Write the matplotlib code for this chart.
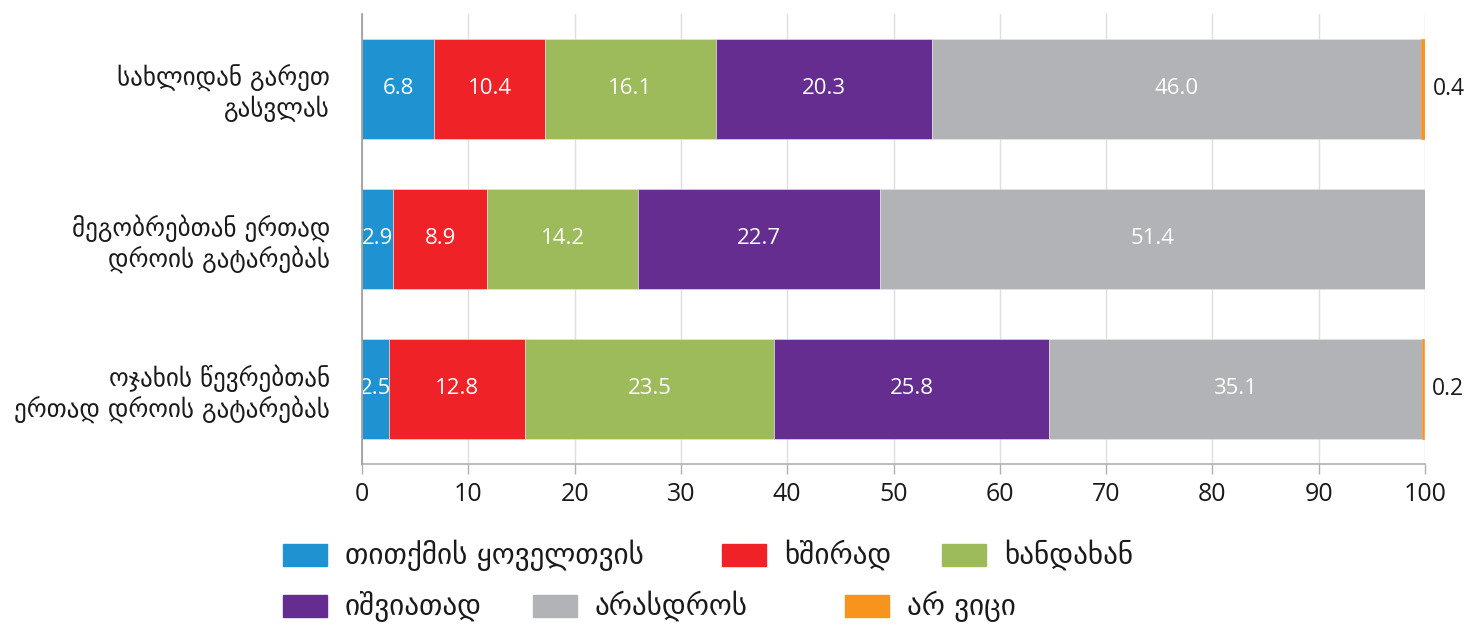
import numpy as np
import matplotlib
matplotlib.use("Agg")
import matplotlib.pyplot as plt
from matplotlib.patches import Rectangle

# activities (y axis, top to bottom)
activities = [
    "სახლიდან გარეთ\nგასვლას",
    "მეგობრებთან ერთად\nდროის გატარებას",
    "ოჯახის წევრებთან\nერთად დროის გატარებას",
]

# answer categories and their shares (%)
answers = [
    "თითქმის ყოველთვის",
    "ხშირად",
    "ხანდახან",
    "იშვიათად",
    "არასდროს",
    "არ ვიცი",
]
almost_always = [6.8, 2.9, 2.5]
often = [10.4, 8.9, 12.8]
sometimes = [16.1, 14.2, 23.5]
rarely = [20.3, 22.7, 25.8]
never = [46.0, 51.4, 35.1]
dont_know = [0.4, 0.0, 0.2]

series = [almost_always, often, sometimes, rarely, never, dont_know]
colors = ["#1f93d2", "#ee2227", "#9dbb5a", "#662d91", "#b1b3b6", "#f7941d"]

xticks = [0, 10, 20, 30, 40, 50, 60, 70, 80, 90, 100]

W, H = 1480, 626
fig = plt.figure(figsize=(W / 100, H / 100), dpi=100)
ax = fig.add_axes([362 / W, 1 - 464 / H, (1425 - 362) / W, (464 - 14) / H])

num_font = ["Open Sans", "DejaVu Sans"]
geo_font = ["DejaVu Sans"]

y = np.arange(len(activities))
left = np.zeros(len(activities))
for vals, col in zip(series, colors):
    vals = np.asarray(vals)
    bars = ax.barh(y, vals, left=left, height=0.667, color=col,
                   edgecolor="#e8e8e8", linewidth=0.4, zorder=3)
    is_last = col == colors[-1]
    for b, v in zip(bars, vals):
        if v <= 0:
            continue
        cy = b.get_y() + b.get_height() / 2
        if is_last:
            b.set_edgecolor(col)
            ax.annotate(f"{v:.1f}", (b.get_x() + b.get_width(), cy),
                        xytext=(6, 0), textcoords="offset points",
                        ha="left", va="center", fontsize=16.5,
                        family=num_font, color="#1a1a1a")
        else:
            ax.text(b.get_x() + b.get_width() / 2, cy, f"{v:.1f}",
                    ha="center", va="center", fontsize=16,
                    family=num_font, color="white", zorder=4)
    left += vals

ax.set_xlim(0, 100)
ax.set_ylim(2.5, -0.5)
ax.set_xticks(xticks)
ax.set_xticklabels([str(t) for t in xticks], family=num_font, fontsize=18,
                   color="#1a1a1a")
ax.set_yticks(y)
ax.set_yticklabels(activities, family=geo_font, fontsize=18, color="#1a1a1a",
                   ha="right", linespacing=1.15)
ax.tick_params(axis="y", length=0, pad=23)
ax.tick_params(axis="x", length=7, width=1, color="#b0b0b0", pad=6)

ax.grid(axis="x", color="#dedede", linewidth=1, zorder=0)
ax.set_axisbelow(True)
for side in ("top", "right"):
    ax.spines[side].set_visible(False)
ax.spines["left"].set_color("#9a9a9a")
ax.spines["left"].set_linewidth(1.2)
ax.spines["bottom"].set_color("#b0b0b0")
ax.spines["bottom"].set_linewidth(1.2)
ax.spines["left"].set_zorder(5)

# legend laid out in two rows beneath the axes
legend_slots = [
    (283, 555), (722, 555), (942, 555),
    (283, 606), (533, 606), (845, 606),
]
for (px, py), name, col in zip(legend_slots, answers, colors):
    fig.patches.append(Rectangle((px / W, 1 - (py + 11) / H), 44 / W, 22 / H,
                                 transform=fig.transFigure, color=col))
    fig.text((px + 62) / W, 1 - py / H, name, family=geo_font, fontsize=21,
             ha="left", va="center", color="#1a1a1a")

fig.savefig("out.png", dpi=100)
